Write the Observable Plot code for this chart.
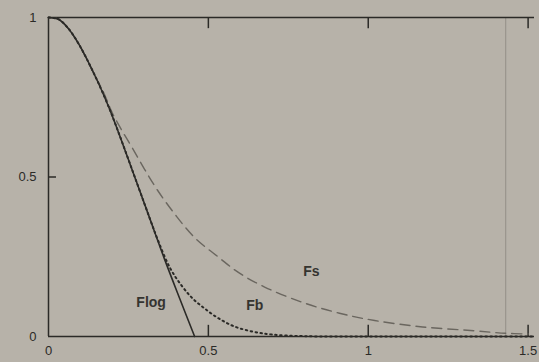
<!DOCTYPE html>
<html>
<head>
<meta charset="utf-8">
<script src="https://cdn.jsdelivr.net/npm/d3@7"></script>
<script src="https://cdn.jsdelivr.net/npm/@observablehq/plot@0.6"></script>
<style>
  html, body { margin: 0; padding: 0; background: #b7b2a9; }
</style>
</head>
<body>
<div id="chart"></div>
<script>
// Flog (solid)
const xFlog = [0, 0.03, 0.06, 0.094, 0.148, 0.189, 0.217, 0.268, 0.315, 0.362, 0.41, 0.457];
const yFlog = [1, 0.995, 0.968, 0.918, 0.812, 0.718, 0.645, 0.505, 0.375, 0.245, 0.12, 0.0];

// Fb (dotted)
const xFb = [0, 0.03, 0.06, 0.094, 0.148, 0.189, 0.217, 0.268, 0.315, 0.343, 0.38, 0.416, 0.45, 0.488, 0.53, 0.58, 0.64, 0.70, 0.80, 1.0, 1.2, 1.4, 1.52];
const yFb = [1, 0.995, 0.968, 0.918, 0.812, 0.718, 0.645, 0.505, 0.375, 0.30, 0.215, 0.16, 0.12, 0.088, 0.058, 0.032, 0.015, 0.006, 0.001, 0, 0, 0, 0];

// Fs (dashed)
const xFs = [0, 0.03, 0.06, 0.094, 0.148, 0.17, 0.20, 0.23, 0.26, 0.30, 0.34, 0.394, 0.457, 0.53, 0.595, 0.676, 0.80, 0.91, 1.02, 1.17, 1.33, 1.43, 1.5];
const yFs = [1, 0.995, 0.968, 0.918, 0.812, 0.77, 0.70, 0.645, 0.595, 0.525, 0.46, 0.385, 0.31, 0.25, 0.20, 0.155, 0.105, 0.073, 0.05, 0.03, 0.018, 0.01, 0.008];

// Labels
const labelNames = ["Flog", "Fb", "Fs"];
const labelX = [0.321, 0.645, 0.822];
const labelY = [0.107, 0.097, 0.204];

// Ticks
const xTicks = [0, 0.5, 1, 1.5];
const xTickLabels = ["0", "0.5", "1", "1.5"];
const yTicks = [0, 0.5, 1];
const yTickLabels = ["0", "0.5", "1"];
const innerXTicks = [0.5, 1, 1.5];
const innerYTicks = [0.5];
const foldX = [1.43];

const toPts = (xs, ys) => xs.map((x, i) => ({x, y: ys[i]}));
const flog = toPts(xFlog, yFlog);
const fb = toPts(xFb, yFb);
const fs = toPts(xFs, yFs);
const labels = labelNames.map((t, i) => ({t, x: labelX[i], y: labelY[i]}));

const ink = "#2b2a27";
const chart = Plot.plot({
  width: 539,
  height: 362,
  marginLeft: 48,
  marginRight: 5,
  marginTop: 17,
  marginBottom: 26,
  style: {background: "#b7b2a9", fontFamily: "Liberation Sans, sans-serif", color: ink},
  x: {domain: [0, 1.52], label: null},
  y: {domain: [0, 1], label: null},
  marks: [
    Plot.ruleX(foldX, {stroke: "#948f87", strokeWidth: 1}),
    Plot.ruleY([0, 1], {stroke: ink, strokeWidth: 1.5}),
    Plot.ruleX([0], {stroke: ink, strokeWidth: 1.5}),
    Plot.ruleX(innerXTicks, {y1: 0, y2: 0.035, stroke: ink, strokeWidth: 1.5}),
    Plot.ruleX(innerXTicks, {y1: 0.965, y2: 1, stroke: ink, strokeWidth: 1.5}),
    Plot.ruleY(innerYTicks, {x1: 0, x2: 0.025, stroke: ink, strokeWidth: 1.5}),
    Plot.line(fs, {x: "x", y: "y", curve: "catmull-rom", stroke: "#6a665f", strokeWidth: 1.4, strokeDasharray: "10,6"}),
    Plot.line(fb, {x: "x", y: "y", curve: "catmull-rom", stroke: ink, strokeWidth: 2, strokeDasharray: "1.5,3.5", strokeLinecap: "round"}),
    Plot.line(flog, {x: "x", y: "y", curve: "catmull-rom", stroke: ink, strokeWidth: 1.6}),
    Plot.text(labels, {x: "x", y: "y", text: "t", fontSize: 14, fontWeight: 600, fill: "#353430"}),
    Plot.axisX(xTicks, {tickSize: 0, tickPadding: 9, fontSize: 13, tickFormat: (d, i) => xTickLabels[i]}),
    Plot.axisY(yTicks, {tickSize: 0, tickPadding: 12, fontSize: 13, tickFormat: (d, i) => yTickLabels[i]})
  ]
});
document.getElementById("chart").append(chart);
</script>
</body>
</html>
